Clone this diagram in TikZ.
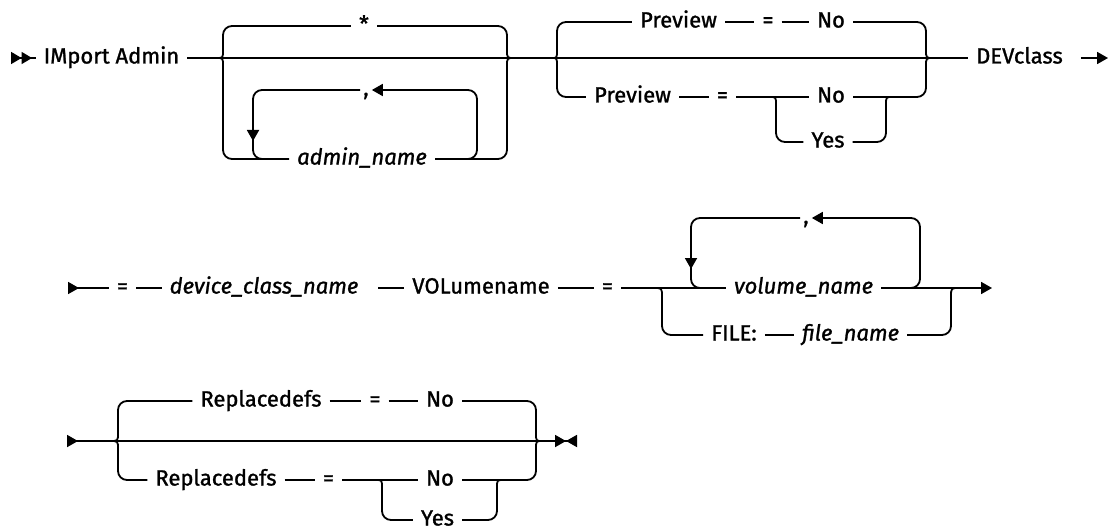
\documentclass[tikz,border=0pt]{standalone}
\usepackage{fontspec}
\setmainfont{Fira Sans}[FakeBold=1.2]
\usetikzlibrary{arrows.meta}
\newcommand\railfont{\fontsize{22}{26}\selectfont}
\tikzset{
  rr/.style={line width=1.8pt, line cap=butt},
  br/.style={rounded corners=9pt},
  toarrow/.style={-{Triangle[length=11pt,width=12pt]}},
  lbl/.style={font=\railfont, text height=11pt, text depth=0pt, inner sep=0pt, inner xsep=8pt},
  var/.style={lbl, font=\railfont\itshape},
  commanode/.style={lbl, inner xsep=3pt}
}
\begin{document}
\begin{tikzpicture}[x=1pt,y=-1pt]
\useasboundingbox (0,0) rectangle (1108,532);
% ---------------- Row 1 ----------------
\coordinate (s1) at (11,58);
\node[lbl] (imp) at (111.5,58) {IMport Admin};
\node[lbl] (star) at (364,26) {*};
\node[var] (adm) at (362,159) {admin\_name};
\node[commanode] (c1) at (366,90) {,};
\node[lbl] (pv1) at (678.5,22) {Preview};
\node[lbl] (eq1) at (768,22) {=};
\node[lbl] (no1) at (831,22) {No};
\node[lbl] (pv2) at (632.5,97) {Preview};
\node[lbl] (eq2) at (722.5,97) {=};
\node[lbl] (no2) at (831,97) {No};
\node[lbl] (yes1) at (828,142) {Yes};
\node[lbl] (dev) at (1019.5,58) {DEVclass};
\coordinate (e1) at (1108,58);

\draw[rr, {Triangle[reversed,length=10.5pt,width=12pt]Triangle[reversed,length=10.5pt,width=12pt]}-] (s1) -- (imp.west);
\draw[rr] (imp.east) -- (dev.west);
\draw[rr, toarrow] ([xshift=10pt]dev.east) -- (e1);

% group 1
\draw[rr] (217,58) .. controls (223,58) .. (223,50) [rounded corners=9pt] -- (223,26) -- (star.west);
\draw[rr] (217,58) .. controls (223,58) .. (223,66) [rounded corners=9pt] -- (223,159) -- (adm.west);
\draw[rr] (514,58) .. controls (507,58) .. (507,50) [rounded corners=9pt] -- (507,26) -- (star.east);
\draw[rr] (514,58) .. controls (507,58) .. (507,66) [rounded corners=9pt] -- (507,159) -- (adm.east);
\draw[rr, br, toarrow] (462,159) -| (477,90) -- (c1.east);
\draw[rr, br, toarrow] (c1.west) -| (253,141);
\draw[rr, br] (253,130) |- (272,159);

% group 2
\draw[rr] (552,58) .. controls (557,58) .. (557,50) [rounded corners=9pt] -- (557,22) -- (pv1.west);
\draw[rr] (552,58) .. controls (557,58) .. (557,66) [rounded corners=9pt] -- (557,97) -- (pv2.west);
\draw[rr] (933,58) .. controls (926,58) .. (926,50) [rounded corners=9pt] -- (926,22) -- (no1.east);
\draw[rr] (933,58) .. controls (926,58) .. (926,66) [rounded corners=9pt] -- (926,97) -- (no2.east);
\draw[rr] (pv1.east) -- (eq1.west);
\draw[rr] (eq1.east) -- (no1.west);
\draw[rr] (pv2.east) -- (eq2.west);
\draw[rr] (eq2.east) -- (no2.west);
\draw[rr] (770,97) .. controls (776,97) .. (776,105) [rounded corners=9pt] -- (776,142) -- (yes1.west);
\draw[rr] (892,97) .. controls (886,97) .. (886,105) [rounded corners=9pt] -- (886,142) -- (yes1.east);

% ---------------- Row 2 ----------------
\coordinate (s2) at (68,288);
\node[lbl] (eq3) at (122.5,288) {=};
\node[var] (dcn) at (264,288) {device\_class\_name};
\node[lbl] (vol) at (481,288) {VOLumename};
\node[lbl] (eq4) at (607.5,288) {=};
\node[var] (vn) at (803.5,288) {volume\_name};
\node[commanode] (c2) at (806,218) {,};
\node[lbl] (file) at (734,335) {FILE:};
\node[var] (fn) at (850.5,335) {file\_name};
\coordinate (e2) at (992,288);

\draw[rr, {Triangle[reversed,length=11pt,width=12pt]}-] (s2) -- (eq3.west);
\draw[rr] (eq3.east) -- (dcn.west);
\draw[rr] ([xshift=12pt]dcn.east) -- (vol.west);
\draw[rr] (vol.east) -- (eq4.west);
\draw[rr] (eq4.east) -- (vn.west);
\draw[rr, toarrow] (vn.east) -- (e2);
\draw[rr, br, toarrow] (905,288) -| (920,218) -- (c2.east);
\draw[rr, br, toarrow] (c2.west) -| (691,269);
\draw[rr, br] (691,258) |- (710,288);
\draw[rr] (654,288) .. controls (662,288) .. (662,297) [rounded corners=9pt] -- (662,335) -- (file.west);
\draw[rr] (file.east) -- (fn.west);
\draw[rr] (959,288) .. controls (951,288) .. (951,297) [rounded corners=9pt] -- (951,335) -- (fn.east);

% ---------------- Row 3 ----------------
\coordinate (s3) at (67,441);
\node[lbl] (rd1) at (261,401) {Replacedefs};
\node[lbl] (eq5) at (375,401) {=};
\node[lbl] (no3) at (440,401) {No};
\node[lbl] (rd2) at (216,480) {Replacedefs};
\node[lbl] (eq6) at (328.5,480) {=};
\node[lbl] (no4) at (440,480) {No};
\node[lbl] (yes2) at (437.5,520) {Yes};
\coordinate (e3) at (577,441);

\draw[rr, {Triangle[reversed,length=11pt,width=12pt]}-{Triangle[length=11pt,width=12pt]Triangle[reversed,length=11pt,width=12pt]}] (s3) -- (e3);
\draw[rr] (110,441) .. controls (118,441) .. (118,433) [rounded corners=9pt] -- (118,401) -- (rd1.west);
\draw[rr] (110,441) .. controls (118,441) .. (118,449) [rounded corners=9pt] -- (118,480) -- (rd2.west);
\draw[rr] (542,441) .. controls (536,441) .. (536,433) [rounded corners=9pt] -- (536,401) -- (no3.east);
\draw[rr] (542,441) .. controls (536,441) .. (536,449) [rounded corners=9pt] -- (536,480) -- (no4.east);
\draw[rr] (rd1.east) -- (eq5.west);
\draw[rr] (eq5.east) -- (no3.west);
\draw[rr] (rd2.east) -- (eq6.west);
\draw[rr] (eq6.east) -- (no4.west);
\draw[rr] (376,480) .. controls (382,480) .. (382,488) [rounded corners=9pt] -- (382,520) -- (yes2.west);
\draw[rr] (503,480) .. controls (497,480) .. (497,488) [rounded corners=9pt] -- (497,520) -- (yes2.east);
\end{tikzpicture}
\end{document}
